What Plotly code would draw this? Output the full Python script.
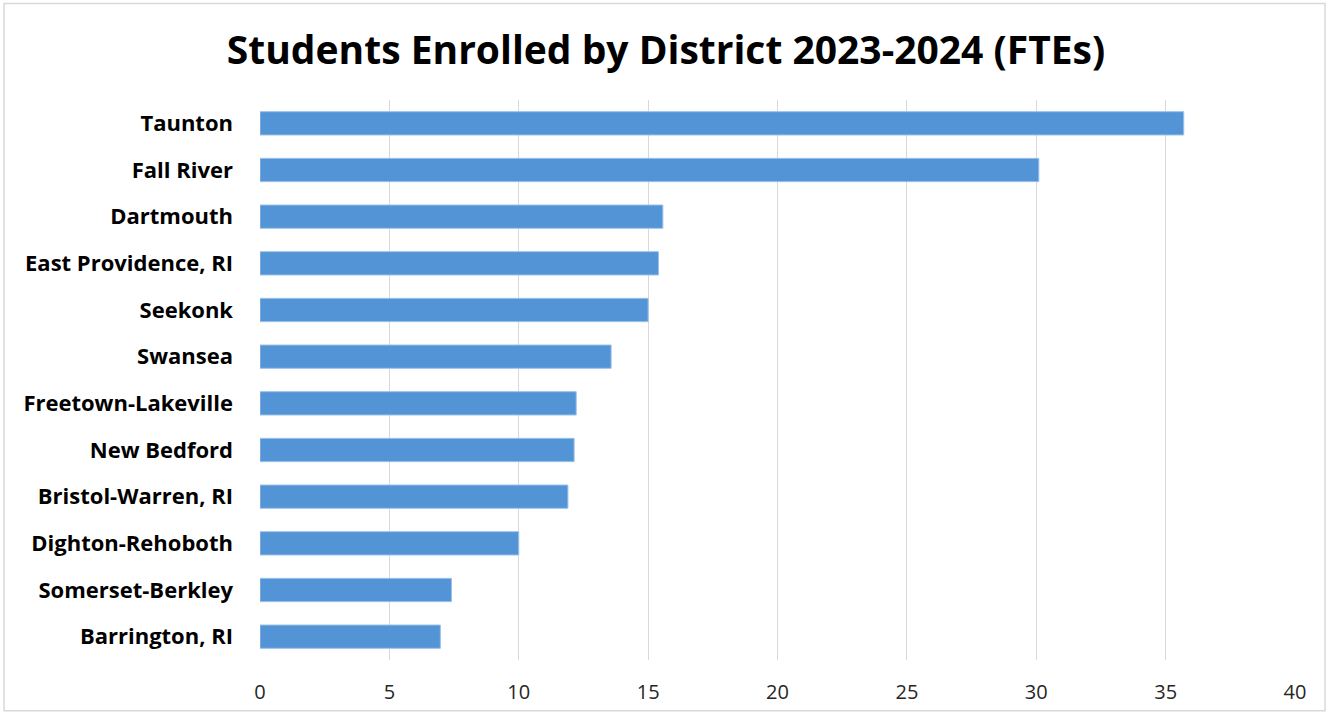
import plotly.graph_objects as go

districts = ["Taunton", "Fall River", "Dartmouth", "East Providence, RI", "Seekonk",
             "Swansea", "Freetown-Lakeville", "New Bedford", "Bristol-Warren, RI",
             "Dighton-Rehoboth", "Somerset-Berkley", "Barrington, RI"]
ftes = [35.7, 30.1, 15.57, 15.4, 15.0, 13.57, 12.22, 12.14, 11.9, 10.0, 7.4, 6.97]
x_ticks = [0, 5, 10, 15, 20, 25, 30, 35, 40]

W, H = 1328, 717
ml, mr, mt, mb = 260, 33, 100, 54

fig = go.Figure(go.Bar(
    y=districts, x=ftes, orientation="h", width=0.5,
    marker=dict(color="#5294D6", line=dict(color="#9CC2EA", width=1)),
))

pw = W - ml - mr
ph = H - mt - mb
def px_x(p): return (p - ml) / pw
def px_y(p): return (H - mb - p) / ph

fig.add_shape(type="rect", xref="paper", yref="paper",
              x0=px_x(4), x1=px_x(1325), y0=px_y(714), y1=px_y(3),
              line=dict(color="#D9D9D9", width=1.5), fillcolor="rgba(0,0,0,0)")

fig.update_layout(
    width=W, height=H,
    margin=dict(l=ml, r=mr, t=mt, b=mb),
    paper_bgcolor="white", plot_bgcolor="white",
    title=dict(text="<b>Students Enrolled by District 2023-2024 (FTEs)</b>",
               x=0.5, xanchor="center", xref="paper", y=1 - 50 / H, yanchor="middle",
               yref="container",
               font=dict(family="Open Sans", size=39, color="black")),
    showlegend=False,
    bargap=0.5,
)
fig.update_layout(title_x=(666 - ml) / pw)
fig.update_xaxes(range=[0, 40], tickvals=x_ticks, showgrid=True, gridcolor="#D9D9D9",
                 gridwidth=1, zeroline=False, showline=False, ticks="",
                 ticklabelstandoff=18,
                 tickfont=dict(family="Open Sans", size=20, color="#262626"))
fig.update_yaxes(autorange="reversed", showgrid=False, zeroline=False, showline=False,
                 ticks="", ticklabelstandoff=26,
                 tickfont=dict(family="Open Sans", size=22, color="black", weight="bold"))

fig.write_html("out.html")
